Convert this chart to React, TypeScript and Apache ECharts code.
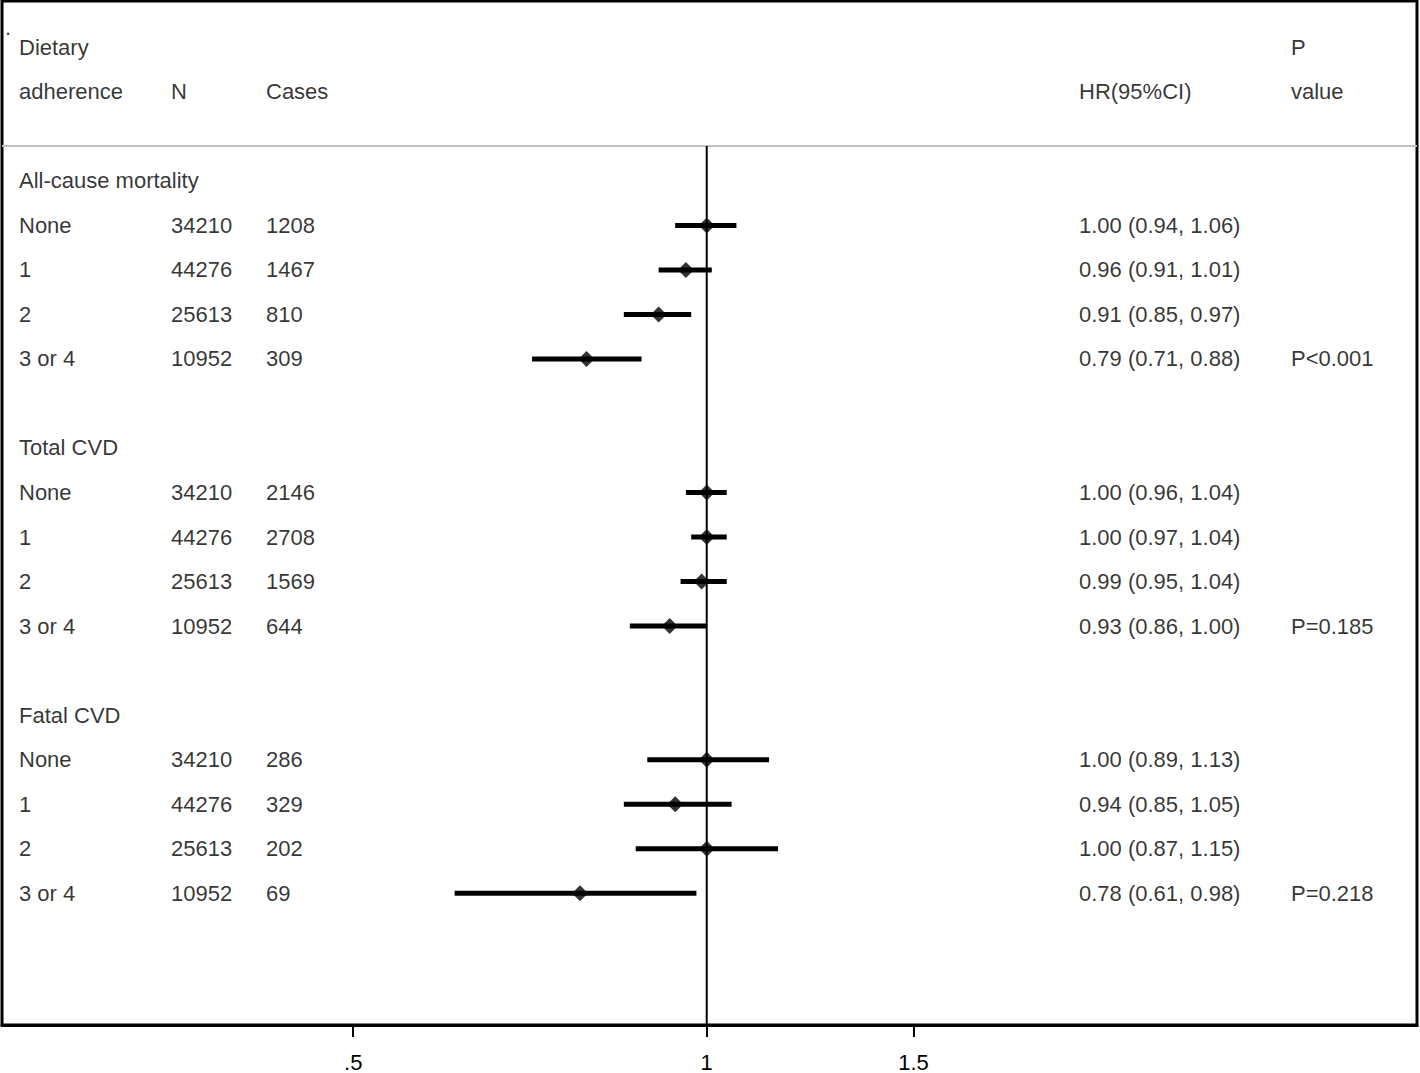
import React, { useEffect, useRef } from "react";
import * as echarts from "echarts";

const groups = ["All-cause mortality", "Total CVD", "Fatal CVD"];
const levels = ["None", "1", "2", "3 or 4"];
const nValues = [34210, 44276, 25613, 10952];
const cases = [
  [1208, 1467, 810, 309],
  [2146, 2708, 1569, 644],
  [286, 329, 202, 69],
];
const hr = [
  [1.0, 0.96, 0.91, 0.79],
  [1.0, 1.0, 0.99, 0.93],
  [1.0, 0.94, 1.0, 0.78],
];
const ciLow = [
  [0.94, 0.91, 0.85, 0.71],
  [0.96, 0.97, 0.95, 0.86],
  [0.89, 0.85, 0.87, 0.61],
];
const ciHigh = [
  [1.06, 1.01, 0.97, 0.88],
  [1.04, 1.04, 1.04, 1.0],
  [1.13, 1.05, 1.15, 0.98],
];
const pValues = ["P<0.001", "P=0.185", "P=0.218"];
const tickValues = [0.5, 1, 1.5];
const tickLabels = [".5", "1", "1.5"];

const FONT = "'Liberation Sans', Arial, sans-serif";
const FS = 22;

export default function App() {
  const ref = useRef<HTMLDivElement>(null);
  useEffect(() => {
    document.body.style.margin = "0";
    const chart = echarts.init(ref.current!, null, { renderer: "svg" });

    const xMin = -1.3818;
    const xMax = 1.3927;
    const yMin = -4.04;
    const yMax = 18.96;
    const headerLineRow = -0.785;

    // columns on a pixel-like helper axis (0..1415)
    const colLabel = 17;
    const colN = 169;
    const colCases = 264;
    const colHR = 1077;
    const colP = 1289;

    const texts: any[] = [];
    const addText = (x: number, y: number, s: string) => texts.push({ value: [x, y], name: s });
    addText(3, -3.45, ".");
    addText(colLabel, -3, "Dietary");
    addText(colLabel, -2, "adherence");
    addText(colN, -2, "N");
    addText(colCases, -2, "Cases");
    addText(colHR, -2, "HR(95%CI)");
    addText(colP, -3, "P");
    addText(colP, -2, "value");

    const bars: any[] = [];
    const points: any[] = [];
    groups.forEach((g, gi) => {
      const base = gi * 6;
      addText(colLabel, base, g);
      levels.forEach((lv, li) => {
        const row = base + 1 + li;
        addText(colLabel, row, lv);
        addText(colN, row, String(nValues[li]));
        addText(colCases, row, String(cases[gi][li]));
        addText(
          colHR,
          row,
          `${hr[gi][li].toFixed(2)} (${ciLow[gi][li].toFixed(2)}, ${ciHigh[gi][li].toFixed(2)})`
        );
        bars.push([Math.log(ciLow[gi][li]), Math.log(ciHigh[gi][li]), row]);
        points.push([Math.log(hr[gi][li]), row]);
      });
      addText(colP, base + 4, pValues[gi]);
    });

    chart.setOption({
      animation: false,
      backgroundColor: "#fff",
      grid: {
        left: 2,
        right: 3,
        top: 1,
        bottom: 47,
        show: true,
        borderColor: "#000",
        borderWidth: 3,
        backgroundColor: "transparent",
      },
      xAxis: [
        {
          type: "value",
          min: xMin,
          max: xMax,
          splitLine: { show: false },
          axisLine: { show: true, onZero: false, lineStyle: { color: "#000", width: 3 } },
          axisTick: {
            show: true,
            length: 12,
            lineStyle: { color: "#000", width: 2 },
            customValues: tickValues.map((v) => Math.log(v)),
          },
          axisLabel: {
            show: true,
            fontSize: FS,
            fontFamily: FONT,
            color: "#000",
            margin: 26,
            customValues: tickValues.map((v) => Math.log(v)),
            formatter: (v: number) => {
              let best = 0;
              tickValues.forEach((t, i) => {
                if (Math.abs(Math.log(t) - v) < Math.abs(Math.log(tickValues[best]) - v)) best = i;
              });
              return tickLabels[best];
            },
          },
        },
        {
          type: "value",
          min: 0,
          max: 1415,
          show: false,
        },
      ],
      yAxis: {
        type: "value",
        min: yMin,
        max: yMax,
        inverse: true,
        show: false,
        splitLine: { show: false },
      },
      series: [
        {
          type: "line",
          xAxisIndex: 1,
          data: [
            [0, headerLineRow],
            [1415, headerLineRow],
          ],
          symbol: "none",
          lineStyle: { color: "#c0c0c0", width: 2 },
          silent: true,
        },
        {
          type: "line",
          xAxisIndex: 0,
          data: [
            [0, headerLineRow],
            [0, yMax],
          ],
          symbol: "none",
          lineStyle: { color: "#000", width: 2 },
          silent: true,
        },
        {
          type: "custom",
          xAxisIndex: 0,
          data: bars,
          encode: { x: [0, 1], y: 2 },
          renderItem: (params: any, api: any) => {
            const a = api.coord([api.value(0), api.value(2)]);
            const b = api.coord([api.value(1), api.value(2)]);
            return {
              type: "line",
              shape: { x1: a[0], y1: a[1], x2: b[0], y2: b[1] },
              style: { stroke: "#000", lineWidth: 5 },
            };
          },
          silent: true,
        },
        {
          type: "scatter",
          xAxisIndex: 0,
          data: points,
          symbol: "diamond",
          symbolSize: 16,
          itemStyle: { color: "#000" },
          silent: true,
        },
        {
          type: "scatter",
          xAxisIndex: 1,
          data: texts,
          symbolSize: 0.001,
          itemStyle: { color: "transparent" },
          label: {
            show: true,
            position: "right",
            distance: 0,
            formatter: (p: any) => p.name,
            fontSize: FS,
            fontFamily: FONT,
            color: "#000",
          },
          silent: true,
        },
      ],
    });
    return () => chart.dispose();
  }, []);
  return (
    <div
      ref={ref}
      style={{ position: "fixed", left: 0, top: 0, width: 1420, height: 1073 }}
    />
  );
}
